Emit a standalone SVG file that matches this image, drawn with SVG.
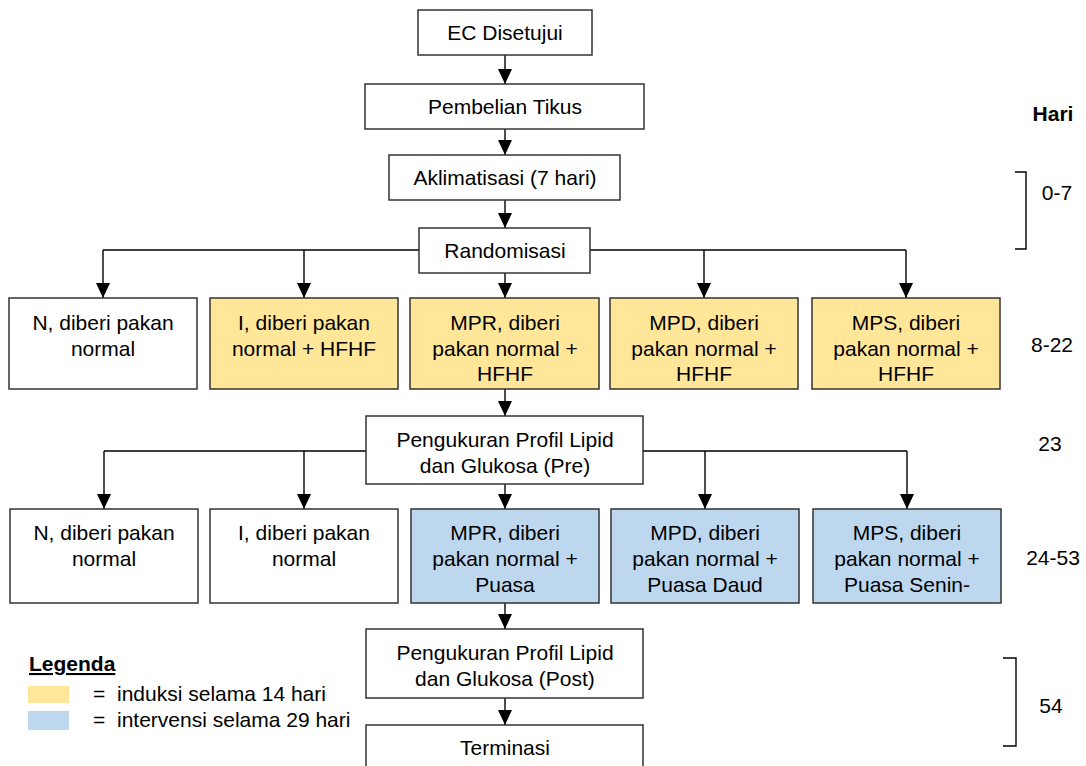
<svg xmlns="http://www.w3.org/2000/svg" width="1086" height="766" viewBox="0 0 1086 766">
<defs>
<marker id="ah" viewBox="0 0 15 14" refX="15" refY="7" markerWidth="15" markerHeight="14" markerUnits="userSpaceOnUse" orient="auto">
<path d="M0,0 L15,7 L0,14 z" fill="#000"/>
</marker>
<style>
.b{stroke:#333;stroke-width:1.5;fill:#fff}
.y{fill:#FFE699}
.u{fill:#BDD7EE}
text{font-family:"Liberation Sans",Arial,sans-serif;font-size:21px;fill:#000}
.c{text-anchor:middle}
.k{stroke:#000;stroke-width:1.4;fill:none}
.a{marker-end:url(#ah)}
</style>
</defs>
<rect width="1086" height="766" fill="#fff"/>
<g id="connectors">
<line class="k a" x1="505" y1="55" x2="505" y2="84"/>
<line class="k a" x1="505" y1="129" x2="505" y2="155"/>
<line class="k a" x1="505" y1="200" x2="505" y2="228"/>
<path class="k" d="M419,250 H103 M590,250 H906"/>
<line class="k a" x1="103" y1="250" x2="103" y2="298"/>
<line class="k a" x1="304" y1="250" x2="304" y2="298"/>
<line class="k a" x1="505" y1="273" x2="505" y2="298"/>
<line class="k a" x1="704" y1="250" x2="704" y2="298"/>
<line class="k a" x1="906" y1="250" x2="906" y2="298"/>
<line class="k a" x1="505" y1="389" x2="505" y2="416"/>
<path class="k" d="M366,451 H104 M643,451 H907"/>
<line class="k a" x1="104" y1="451" x2="104" y2="509"/>
<line class="k a" x1="304" y1="451" x2="304" y2="509"/>
<line class="k a" x1="505" y1="484" x2="505" y2="509"/>
<line class="k a" x1="705" y1="451" x2="705" y2="509"/>
<line class="k a" x1="907" y1="451" x2="907" y2="509"/>
<line class="k a" x1="505" y1="603" x2="505" y2="629"/>
<line class="k a" x1="505" y1="698" x2="505" y2="725"/>
</g>
<g id="ec"><rect class="b" x="418" y="10" width="174" height="45"/><text class="c" x="505" y="40">EC Disetujui</text></g>
<g id="pembelian"><rect class="b" x="365" y="84" width="279" height="45"/><text class="c" x="505" y="114">Pembelian Tikus</text></g>
<g id="aklimatisasi"><rect class="b" x="389" y="155" width="231" height="45"/><text class="c" x="505" y="185">Aklimatisasi (7 hari)</text></g>
<g id="randomisasi"><rect class="b" x="419" y="228" width="171" height="45"/><text class="c" x="505" y="258">Randomisasi</text></g>
<g id="n1"><rect class="b" x="9" y="298" width="188" height="91"/><text class="c" x="103" y="330">N, diberi pakan</text><text class="c" x="103" y="356">normal</text></g>
<g id="i1"><rect class="b y" x="210" y="298" width="188" height="91"/><text class="c" x="304" y="330">I, diberi pakan</text><text class="c" x="304" y="356">normal + HFHF</text></g>
<g id="mpr1"><rect class="b y" x="410" y="298" width="189" height="91"/><text class="c" x="505" y="330">MPR, diberi</text><text class="c" x="505" y="356">pakan normal +</text><text class="c" x="505" y="381">HFHF</text></g>
<g id="mpd1"><rect class="b y" x="610" y="298" width="188" height="91"/><text class="c" x="704" y="330">MPD, diberi</text><text class="c" x="704" y="356">pakan normal +</text><text class="c" x="704" y="381">HFHF</text></g>
<g id="mps1"><rect class="b y" x="812" y="298" width="188" height="91"/><text class="c" x="906" y="330">MPS, diberi</text><text class="c" x="906" y="356">pakan normal +</text><text class="c" x="906" y="381">HFHF</text></g>
<g id="pre"><rect class="b" x="366" y="416" width="277" height="68"/><text class="c" x="505" y="447">Pengukuran Profil Lipid</text><text class="c" x="505" y="473">dan Glukosa (Pre)</text></g>
<g id="n2"><rect class="b" x="10" y="509" width="188" height="94"/><text class="c" x="104" y="540">N, diberi pakan</text><text class="c" x="104" y="566">normal</text></g>
<g id="i2"><rect class="b" x="210" y="509" width="188" height="94"/><text class="c" x="304" y="540">I, diberi pakan</text><text class="c" x="304" y="566">normal</text></g>
<g id="mpr2"><rect class="b u" x="411" y="509" width="188" height="94"/><text class="c" x="505" y="540">MPR, diberi</text><text class="c" x="505" y="566">pakan normal +</text><text class="c" x="505" y="592">Puasa</text></g>
<g id="mpd2"><rect class="b u" x="611" y="509" width="188" height="94"/><text class="c" x="705" y="540">MPD, diberi</text><text class="c" x="705" y="566">pakan normal +</text><text class="c" x="705" y="592">Puasa Daud</text></g>
<g id="mps2"><rect class="b u" x="813" y="509" width="188" height="94"/><text class="c" x="907" y="540">MPS, diberi</text><text class="c" x="907" y="566">pakan normal +</text><text class="c" x="907" y="592">Puasa Senin-</text></g>
<g id="post"><rect class="b" x="366" y="629" width="277" height="69"/><text class="c" x="505" y="660">Pengukuran Profil Lipid</text><text class="c" x="505" y="686">dan Glukosa (Post)</text></g>
<g id="terminasi"><rect class="b" x="366" y="725" width="277" height="50"/><text class="c" x="505" y="755">Terminasi</text></g>
<g id="timeline">
<text class="c" x="1053" y="121" font-weight="bold">Hari</text>
<path class="k" d="M1015,172 H1026 V249 H1015" stroke-width="1.2"/>
<text class="c" x="1057" y="200">0-7</text>
<text class="c" x="1052" y="352">8-22</text>
<text class="c" x="1050" y="451">23</text>
<text class="c" x="1053" y="565">24-53</text>
<path class="k" d="M1003,658 H1016 V746 H1003" stroke-width="1.2"/>
<text class="c" x="1051" y="713">54</text>
</g>
<g id="legend">
<text x="29" y="671" font-weight="bold" text-decoration="underline">Legenda</text>
<rect x="28" y="686" width="41" height="17" fill="#FFE699"/>
<rect x="28" y="711" width="41" height="19" fill="#BDD7EE"/>
<text x="93" y="701">=</text><text x="117" y="701">induksi selama 14 hari</text>
<text x="93" y="727">=</text><text x="117" y="727">intervensi selama 29 hari</text>
</g>
</svg>
